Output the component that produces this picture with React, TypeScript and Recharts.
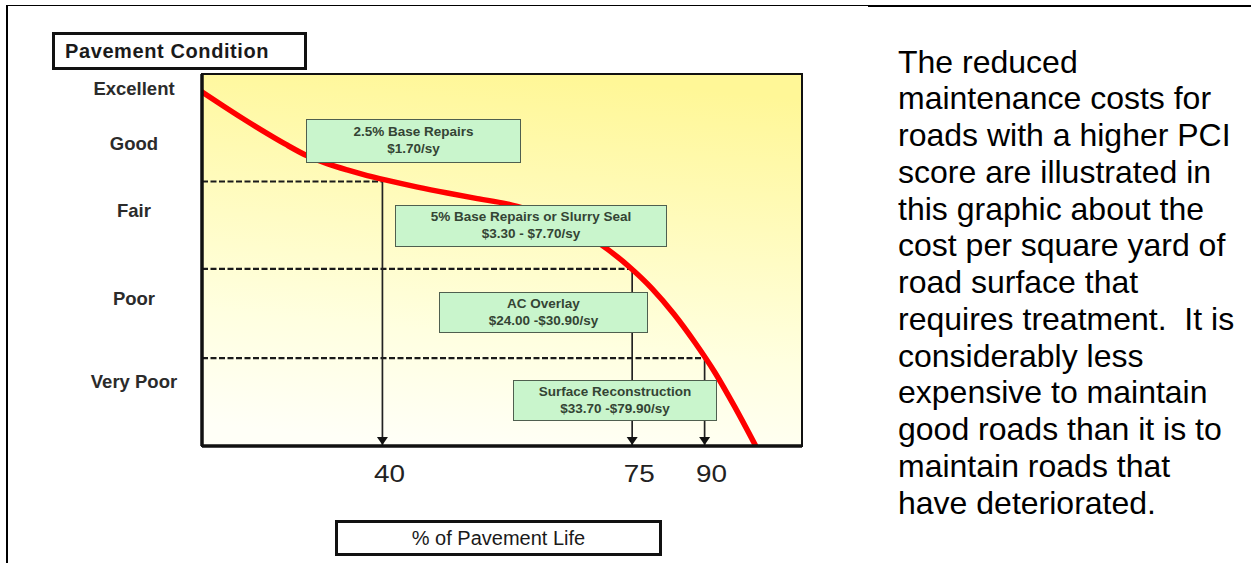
import React from 'react'
import {
  LineChart, Line, XAxis, YAxis,
  ReferenceArea, ReferenceLine, ReferenceDot,
} from 'recharts'

// deterioration curve: % of pavement life vs condition score (100 = new)
const lifePct = [25.4, 26.8, 28.2, 29.6, 31.3, 33.1, 34.8, 36.6, 38.5, 40.5, 43.7, 47.1, 50.8, 54.7, 58, 62.5, 66.6, 70.4, 74.6, 78.8, 83.3, 87.8, 92.4, 97.1, 102.2]
const pciScore = [95.2, 91.4, 87.9, 84.7, 81.2, 78, 75.9, 74.2, 72.7, 71.4, 69.6, 68, 66.5, 65.1, 63.4, 60.8, 57, 53, 48, 42.4, 35.5, 27.9, 19.7, 10.5, 0.3]

// where each condition threshold is crossed
const thresholdLife = [40, 75, 90]
const thresholdPci = [71.1, 47.6, 23.6]

const lifeTicks = [40, 75, 90]
const conditionLabels = ['Excellent', 'Good', 'Fair', 'Poor', 'Very Poor']
const conditionTicks = [96.1, 81.4, 63.2, 39.8, 17.3]

const treatmentNames = ['2.5% Base Repairs', '5% Base Repairs or Slurry Seal', 'AC Overlay', 'Surface Reconstruction']
const treatmentCosts = ['$1.70/sy', '$3.30 - $7.70/sy', '$24.00 -$30.90/sy', '$33.70 -$79.90/sy']

const paragraphLines = [
  'The reduced',
  'maintenance costs for',
  'roads with a higher PCI',
  'score are illustrated in',
  'this graphic about the',
  'cost per square yard of',
  'road surface that',
  'requires treatment.  It is',
  'considerably less',
  'expensive to maintain',
  'good roads than it is to',
  'maintain roads that',
  'have deteriorated.',
]

const curve = lifePct.map((life, i) => ({ life, pci: pciScore[i] }))

const FONT = '"Liberation Sans", Arial, Helvetica, sans-serif'
const X_MIN = 25.4
const X_MAX = 115

// annotation box placement (px)
const BOX_POS = [
  { left: 306, top: 119, width: 215, height: 44 },
  { left: 395, top: 205, width: 272, height: 42 },
  { left: 439, top: 292, width: 209, height: 41 },
  { left: 513, top: 380, width: 204, height: 41 },
]

function ConditionTick({ y, payload }: any) {
  const i = conditionTicks.indexOf(payload.value)
  return (
    <text x={134} y={y} dy={6.6} textAnchor="middle" fontFamily={FONT}
      fontSize={18.5} fontWeight="bold" fill="#2b2b2b">
      {conditionLabels[i]}
    </text>
  )
}

function LifeTick({ x, y, payload }: any) {
  return (
    <text x={x + 7} y={y + 36} textAnchor="middle" fontFamily={FONT}
      fontSize={23} fill="#222" textLength={31} lengthAdjust="spacingAndGlyphs">
      {payload.value}
    </text>
  )
}

function Arrowhead({ cx, cy }: any) {
  return <path d={`M${cx - 5.5},${cy - 9} L${cx + 5.5},${cy - 9} L${cx},${cy - 1} Z`} fill="#111" />
}

export default function App() {
  return (
    <div style={{ position: 'absolute', left: 0, top: 0, width: 1251, height: 563, background: '#fff', fontFamily: FONT, overflow: 'hidden' }}>
      {/* page frame */}
      <div style={{ position: 'absolute', left: 7, top: 5, width: 1244, height: 1, background: '#000' }} />
      <div style={{ position: 'absolute', left: 868, top: 5, width: 383, height: 2, background: '#000' }} />
      <div style={{ position: 'absolute', left: 6, top: 5, width: 2, height: 558, background: '#000' }} />

      <div style={{ position: 'absolute', left: 0, top: 0 }}>
        <LineChart width={1251} height={563} data={curve}
          margin={{ top: 74, right: 449, bottom: 77, left: 142 }}>
          <defs>
            <linearGradient id="plotBg" x1="0.4" y1="1" x2="0.55" y2="0">
              <stop offset="0" stopColor="#FFFFF7" />
              <stop offset="0.3" stopColor="#FFFFE0" />
              <stop offset="1" stopColor="#FFF797" />
            </linearGradient>
          </defs>
          <XAxis dataKey="life" type="number" scale="log" domain={[X_MIN, X_MAX]}
            allowDataOverflow ticks={lifeTicks} height={40}
            tickSize={0} tickMargin={0} tickLine={false}
            axisLine={{ stroke: '#111', strokeWidth: 3.5 }} tick={<LifeTick />} />
          <YAxis type="number" domain={[0, 100]} allowDataOverflow width={60}
            ticks={conditionTicks} tickSize={0} tickMargin={0} tickLine={false}
            axisLine={{ stroke: '#111', strokeWidth: 3.5 }} tick={<ConditionTick />} />
          <ReferenceArea x1={X_MIN} x2={X_MAX} y1={0} y2={100}
            fill="url(#plotBg)" fillOpacity={1} stroke="#111" strokeWidth={2} />
          {thresholdLife.map((life, i) => (
            <ReferenceLine key={`h${i}`} ifOverflow="visible"
              segment={[{ x: X_MIN, y: thresholdPci[i] }, { x: life, y: thresholdPci[i] }]}
              stroke="#1a1a1a" strokeWidth={2.2} strokeDasharray="6 2.5" />
          ))}
          {thresholdLife.map((life, i) => (
            <ReferenceLine key={`v${i}`} ifOverflow="visible"
              segment={[{ x: life, y: thresholdPci[i] }, { x: life, y: 0 }]}
              stroke="#222" strokeWidth={1.7} />
          ))}
          {thresholdLife.map((life, i) => (
            <ReferenceDot key={`a${i}`} x={life} y={0} ifOverflow="visible" shape={<Arrowhead />} />
          ))}
          <Line dataKey="pci" type="monotone" stroke="#FF0000" strokeWidth={5.5}
            strokeLinecap="round" dot={false} activeDot={false} isAnimationActive={false} />
        </LineChart>
      </div>

      {/* axis titles */}
      <div style={{
        position: 'absolute', left: 52, top: 32, width: 255, height: 38, boxSizing: 'border-box',
        border: '3px solid #111', background: '#fff', paddingLeft: 10,
        fontSize: 20, fontWeight: 'bold', lineHeight: '32px', letterSpacing: 0.6, color: '#1a1a1a',
      }}>
        Pavement Condition
      </div>
      <div style={{
        position: 'absolute', left: 335, top: 520, width: 327, height: 36, boxSizing: 'border-box',
        border: '3px solid #111', background: '#fff', textAlign: 'center',
        fontSize: 20, lineHeight: '30px', color: '#1a1a1a',
      }}>
        % of Pavement Life
      </div>

      {/* treatment boxes */}
      {treatmentNames.map((name, i) => (
        <div key={name} style={{
          position: 'absolute', ...BOX_POS[i], boxSizing: 'border-box',
          border: '1.5px solid #4f5f4f', background: '#C9F5CC',
          display: 'flex', flexDirection: 'column', justifyContent: 'center', alignItems: 'center',
          fontSize: 13.5, fontWeight: 'bold', lineHeight: '16.7px', color: '#344434',
        }}>
          <div>{name}</div>
          <div>{treatmentCosts[i]}</div>
        </div>
      ))}

      {/* description */}
      <div style={{
        position: 'absolute', left: 898, top: 43.5, fontSize: 32, lineHeight: '36.75px',
        color: '#000', whiteSpace: 'pre',
      }}>
        {paragraphLines.map(l => <div key={l}>{l}</div>)}
      </div>
    </div>
  )
}
